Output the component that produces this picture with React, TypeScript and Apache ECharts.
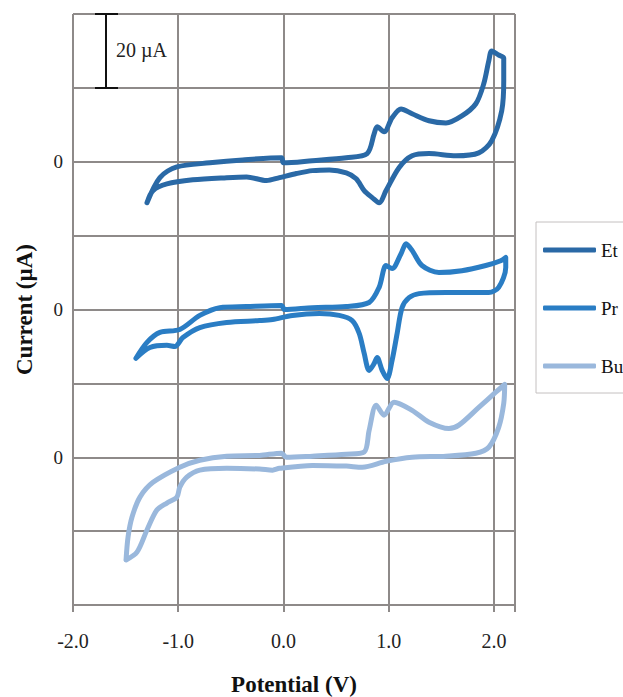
import React, { useEffect, useRef } from "react";
import * as echarts from "echarts";

// Potential (V), current (µA) pairs, in scan order around each loop
const etPotential = [-1.297, -1.174, -1.013, -0.70, -0.388, -0.019, 0.0, 0.275, 0.597, 0.795, 0.862, 0.89, 0.956, 1.032, 1.117, 1.222, 1.383, 1.544, 1.695, 1.828, 1.903, 1.951, 1.979, 2.045, 2.093, 2.093, 2.074, 1.979, 1.856, 1.638, 1.383, 1.222, 1.098, 0.975, 0.909, 0.843, 0.767, 0.691, 0.597, 0.436, 0.275, 0.123, -0.038, -0.161, -0.35, -0.54, -0.862, -1.108, -1.24, -1.297];
const etCurrent = [-11.1, -4.3, -1.4, -0.3, 0.5, 1.1, -0.3, 0.3, 1.1, 2.2, 7.6, 9.5, 8.1, 11.9, 14.3, 13.0, 11.1, 10.5, 12.4, 15.7, 21.1, 27.3, 30.0, 28.9, 28.1, 21.9, 13.8, 5.7, 2.4, 1.6, 2.2, 1.6, -1.6, -7.8, -11.1, -9.7, -7.8, -4.6, -3.0, -2.2, -2.4, -3.2, -4.3, -5.1, -4.1, -4.3, -4.9, -6.0, -7.8, -11.1];

const prPotential = [-1.402, -1.297, -1.174, -0.985, -0.795, -0.606, -0.35, -0.019, 0.01, 0.275, 0.597, 0.814, 0.909, 0.975, 1.032, 1.117, 1.165, 1.222, 1.316, 1.477, 1.695, 1.922, 2.064, 2.112, 2.112, 2.045, 1.951, 1.544, 1.288, 1.193, 1.127, 1.08, 1.032, 0.985, 0.938, 0.89, 0.862, 0.814, 0.767, 0.72, 0.653, 0.53, 0.341, 0.085, -0.104, -0.227, -0.54, -0.795, -0.956, -1.032, -1.108, -1.269, -1.402];
const prCurrent = [-13.2, -8.9, -6.2, -5.4, -1.6, 0.5, 0.8, 1.1, 0.0, 0.5, 0.8, 1.9, 6.0, 11.9, 11.1, 15.1, 17.8, 16.0, 11.9, 10.0, 10.5, 11.9, 13.2, 14.1, 11.4, 6.0, 4.6, 4.6, 4.3, 3.2, 0.5, -6.5, -13.8, -18.7, -16.5, -13.0, -14.6, -16.5, -11.9, -6.5, -3.0, -1.6, -1.1, -1.6, -2.7, -3.0, -3.5, -4.9, -7.6, -10.0, -9.7, -10.3, -13.2];

const buPotential = [-1.496, -1.477, -1.439, -1.364, -1.24, -0.985, -0.795, -0.54, -0.227, -0.019, 0.028, 0.275, 0.597, 0.767, 0.814, 0.881, 0.956, 1.051, 1.222, 1.383, 1.572, 1.667, 1.856, 2.017, 2.102, 2.093, 2.045, 1.951, 1.828, 1.544, 1.222, 0.975, 0.748, 0.597, 0.275, -0.038, -0.104, -0.227, -0.54, -0.795, -0.919, -0.985, -1.013, -1.108, -1.203, -1.297, -1.392, -1.496];
const buCurrent = [-27.8, -21.6, -16.2, -10.8, -6.8, -2.7, -0.8, 0.3, 0.5, 1.1, 0.0, 0.3, 0.8, 1.4, 7.3, 14.1, 11.4, 14.9, 12.7, 9.5, 7.8, 8.7, 13.5, 17.6, 19.7, 14.6, 8.1, 2.7, 1.1, 0.3, 0.0, -1.1, -2.7, -2.4, -2.2, -3.0, -3.5, -3.2, -3.0, -3.5, -5.4, -8.1, -10.8, -12.4, -14.3, -19.7, -25.7, -27.8];

const seriesNames = ["Et", "Pr", "Bu"];
const seriesOffsets = [120, 80, 40]; // vertical stacking offset (µA) of each trace's zero
const xTicks = [-2, -1, 0, 1, 2];

const colors = ["#2a69a6", "#2a7dc4", "#9ab8dc"];
const SERIF = "'Liberation Serif', 'DejaVu Serif', serif";

function pairs(xs: number[], ys: number[], offset: number) {
  return xs.map((x, i) => [x, ys[i] + offset]);
}

export default function App() {
  const ref = useRef<HTMLDivElement>(null);
  useEffect(() => {
    if (!ref.current) return;
    const chart = echarts.init(ref.current, undefined, { renderer: "svg" });
    const datasets = [
      pairs(etPotential, etCurrent, seriesOffsets[0]),
      pairs(prPotential, prCurrent, seriesOffsets[1]),
      pairs(buPotential, buCurrent, seriesOffsets[2]),
    ];
    const gridColor = "#8e8a89";
    chart.setOption({
      animation: false,
      backgroundColor: "#ffffff",
      grid: { left: 73, right: 108, top: 14, bottom: 92, containLabel: false, outerBoundsMode: "none" },
      xAxis: {
        type: "value",
        min: -2,
        max: 2.2,
        interval: 1,
        name: "Potential (V)",
        nameLocation: "middle",
        nameGap: 68,
        nameTextStyle: { fontFamily: SERIF, fontSize: 23, fontWeight: "bold", color: "#111" },
        axisLine: { show: true, onZero: false, lineStyle: { color: gridColor, width: 2 } },
        axisTick: { show: true, length: 7, lineStyle: { color: gridColor, width: 2 } },
        axisLabel: {
          fontFamily: SERIF,
          fontSize: 20,
          color: "#222",
          margin: 26,
          formatter: (v: number) => (xTicks.includes(v) ? v.toFixed(1) : ""),
        },
        splitLine: { show: true, lineStyle: { color: gridColor, width: 2 } },
      },
      yAxis: {
        type: "value",
        min: 0,
        max: 160,
        interval: 20,
        name: "Current (µA)",
        nameLocation: "middle",
        nameGap: 37,
        nameTextStyle: { fontFamily: SERIF, fontSize: 23, fontWeight: "bold", color: "#111" },
        axisLine: { show: true, lineStyle: { color: gridColor, width: 2 } },
        axisTick: { show: false },
        axisLabel: {
          fontFamily: SERIF,
          fontSize: 19,
          color: "#222",
          margin: 10,
          formatter: (v: number) => (seriesOffsets.includes(v) ? "0" : ""),
        },
        splitLine: { show: true, lineStyle: { color: gridColor, width: 2 } },
      },
      legend: {
        orient: "vertical",
        left: 536,
        top: 222,
        data: seriesNames,
        icon: "roundRect",
        itemWidth: 53,
        itemHeight: 5,
        itemGap: 38,
        padding: [18, 80, 17, 7],
        borderColor: "#c4c0c0",
        borderWidth: 1,
        textStyle: { fontFamily: SERIF, fontSize: 19, color: "#111", lineHeight: 20 },
      },
      graphic: [
        { type: "line", z: 100, shape: { x1: 106, y1: 14, x2: 106, y2: 88 }, style: { stroke: "#111", lineWidth: 2 } },
        { type: "line", z: 100, shape: { x1: 95, y1: 14, x2: 118, y2: 14 }, style: { stroke: "#111", lineWidth: 2 } },
        { type: "line", z: 100, shape: { x1: 95, y1: 88, x2: 118, y2: 88 }, style: { stroke: "#111", lineWidth: 2 } },
        {
          type: "text",
          z: 100,
          x: 116,
          y: 50,
          style: { text: "20 µA", font: `20px ${SERIF}`, fill: "#222", textVerticalAlign: "middle" },
        },
      ],
      series: seriesNames.map((name, i) => ({
        name,
        type: "line",
        data: datasets[i],
        symbol: "none",
        smooth: 0.3,
        lineStyle: { color: colors[i], width: 5, cap: "round", join: "round" },
        itemStyle: { color: colors[i] },
        z: 3 - i,
      })),
    });
    return () => chart.dispose();
  }, []);
  return <div ref={ref} style={{ width: 623, height: 697, position: "absolute", left: 0, top: 0 }} />;
}
